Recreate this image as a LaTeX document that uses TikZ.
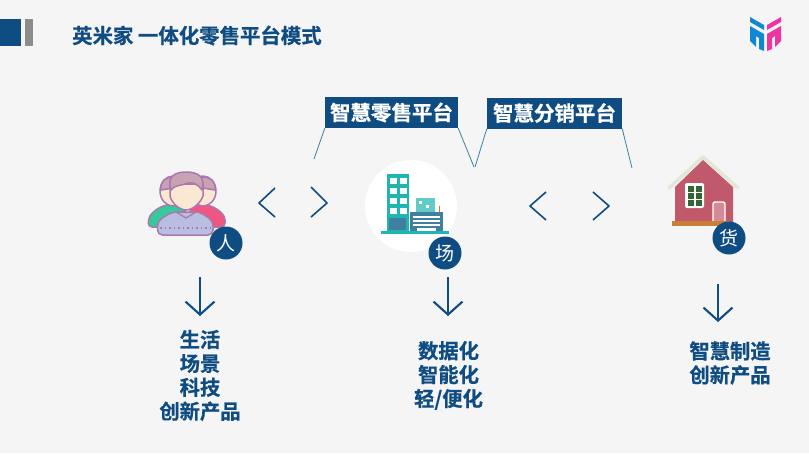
\documentclass[tikz,border=0pt]{standalone}
\usepackage{fontspec}
\usepackage{xcolor}
\usetikzlibrary{arrows.meta}
\setmainfont{Noto Sans CJK SC}[BoldFont={Noto Sans CJK SC Bold},BoldFeatures={FakeBold=0.6}]
\definecolor{azulmarca}{HTML}{0F4C81}
\definecolor{azulicone}{HTML}{3F7F9F}
\definecolor{fundo}{HTML}{F5F5F6}
\definecolor{ciano}{HTML}{1FB5B0}
\definecolor{lilas}{HTML}{A878AE}
\definecolor{cabelo}{HTML}{C9A2B4}
\definecolor{pele}{HTML}{FCE8D2}
\definecolor{verde}{HTML}{35C99B}
\definecolor{rosa}{HTML}{F0567F}
\definecolor{malha}{HTML}{B9BDE0}
\definecolor{casa}{HTML}{C0596B}
\definecolor{telhado}{HTML}{E4E6D8}
\tikzset{
  titulo/.style={font=\bfseries\fontsize{20.4}{24}\selectfont, text=azulmarca, anchor=west, inner sep=0},
  plataforma/.style={fill=azulmarca, text=white, font=\bfseries\fontsize{20.5}{24}\selectfont, inner sep=0, minimum height=31pt},
  guia/.style={draw=azulicone, line width=0.8pt},
  seta/.style={draw=azulmarca, line width=1.6pt},
  setabaixo/.style={seta, line width=2.1pt, -{Straight Barb[length=13pt,width=29pt,line width=2.1pt]}},
  selo/.style={circle, fill=azulmarca, text=white, font=\fontsize{19}{22}\selectfont, inner sep=0, minimum size=33pt},
  lista/.style={align=center, text=azulmarca, font=\bfseries\fontsize{20.3}{24}\selectfont, inner sep=0},
  contorno/.style={draw=lilas, line width=1.5pt, line join=round},
}
\begin{document}
\begin{tikzpicture}[x=1pt,y=-1pt]
    \useasboundingbox (0,0) rectangle (809,453);
    \fill[fundo] (0,0) rectangle (809,453);

    % Cabecalho
    \fill[azulmarca] (0,19) rectangle (21,46);
    \fill[gray!90] (25,19) rectangle (33,46);
    \node[titulo] (cabecalho) at (72,35.5) {英米家 一体化零售平台模式};

    % Marca
    \fill[cyan!70!blue] (750,17) -- (764,25) -- (764,30) -- (750,22) -- cycle;
    \fill[cyan!70!blue] (750,26) -- (764,34) -- (764,51) -- (759,49) -- (759,38) -- (756,36) -- (756,47) -- (750,41) -- cycle;
    \fill[magenta!80!white] (781,17) -- (767,25) -- (767,30) -- (781,22) -- cycle;
    \fill[magenta!80!white] (781,26) -- (767,34) -- (767,51) -- (772,49) -- (772,38) -- (775,36) -- (775,47) -- (781,41) -- cycle;

    % Plataformas
    \node[plataforma, minimum width=133pt] (varejo) at (391.5,112.5) {智慧零售平台};
    \node[plataforma, minimum width=135pt] (distribuicao) at (554.5,113) {智慧分销平台};
    \coordinate (g1) at (314,159);
    \coordinate (g2) at (474,167);
    \coordinate (g3) at (475,167);
    \coordinate (g4) at (632,168);
    \draw[guia] (varejo.south west) -- (g1);
    \draw[guia] (varejo.south east) -- (g2);
    \draw[guia] (distribuicao.south west) -- (g3);
    \draw[guia] (distribuicao.south east) -- (g4);

    % Pessoas
    \filldraw[fill=verde, contorno, rounded corners=4pt] (148,227) -- (149,216) -- (158,208) -- (172,203) -- (185,205) -- (185,227) -- cycle;
    \filldraw[fill=rosa, contorno, rounded corners=4pt] (225,227) -- (225,216) -- (216,208) -- (202,203) -- (190,205) -- (190,227) -- cycle;
    \filldraw[fill=pele, contorno] (173,191) ellipse (13 and 15);
    \filldraw[fill=pele, contorno] (203,191) ellipse (13 and 15);
    \filldraw[fill=cabelo, contorno] (161,190) .. controls (160,181) and (166,177) .. (174,177) .. controls (180,177) and (184,180) .. (186,186) -- cycle;
    \filldraw[fill=cabelo, contorno] (215,190) .. controls (216,181) and (210,177) .. (202,177) .. controls (196,177) and (192,180) .. (190,186) -- cycle;
    \filldraw[fill=malha, contorno, rounded corners=5pt] (157.5,235) -- (157.5,221) -- (172,212) -- (200,212) -- (213,221) -- (213,235) -- cycle;
    \draw[lilas, line width=1.2pt] (176,212) -- (186,218) -- (196,212);
    \draw[lilas, line width=1.2pt, dash pattern=on 1.5pt off 3pt] (160,228) -- (212,228);
    \filldraw[fill=pele, contorno] (170,184) -- (170,196) .. controls (172,204) and (180,210) .. (186,210) .. controls (192,210) and (200,204) .. (203,196) -- (203,184) -- cycle;
    \filldraw[fill=cabelo, contorno] (171,190) .. controls (166,176) and (176,172) .. (186,172) .. controls (197,172) and (206,176) .. (202,190) .. controls (198,184) and (192,182) .. (188,183) .. controls (182,186) and (176,184) .. (171,190) -- cycle;
    \node[selo] (pessoa) at (226,243) {人};

    % Loja
    \fill[white] (411,206) circle (46);
    \fill[ciano] (387,174) rectangle (409,232);
    \foreach \coluna in {389.5,400} {
      \foreach \linha in {178,188,198,208} {
        \fill[white] (\coluna,\linha) rectangle ++(7,6);
      }
    }
    \fill[azulicone] (389,218) rectangle (406,230);
    \fill[ciano!70!white] (416,198) rectangle (435,212);
    \fill[white] (419,201) rectangle ++(3,3);
    \fill[white] (426,205) rectangle ++(3,3);
    \fill[azulicone] (410,212) rectangle (443,231);
    \foreach \linha in {216,220,224} {
      \fill[white] (413,\linha) rectangle (440,\linha+1.8);
    }
    \fill[white] (417,228) rectangle (436,231);
    \draw[orange!80!red, line width=1pt] (439,206) -- (439,212);
    \fill[ciano] (381,231) rectangle (449,234);
    \node[selo] (loja) at (445,253) {场};

    % Casa
    \fill[casa] (675,187) -- (703,160) -- (733,187) -- (733,224) -- (675,224) -- cycle;
    \draw[line width=3.6pt, telhado, line cap=round, line join=round] (669,188) -- (703,157) -- (738,188);
    \fill[white, rounded corners=2pt] (685,183) rectangle (704,208);
    \foreach \linha in {186,193,200} {
      \fill[green!25!black!80] (687.5,\linha) rectangle ++(6,5.5);
      \fill[green!25!black!80] (695.5,\linha) rectangle ++(6,5.5);
    }
    \filldraw[fill=casa!70!white, draw=white, line width=1.4pt, rounded corners=2pt] (713,222) -- (713,202) -- (725,202) -- (725,222);
    \fill[brown!85!orange] (672,221) rectangle (730,226);
    \node[selo] (produto) at (729,238) {货};

    % Setas entre os blocos
    \draw[seta, line join=round] (275,188) -- (259,203) -- (275,217);
    \draw[seta, line join=round] (311,187) -- (327,203) -- (311,217);
    \draw[seta, line join=round] (546,192) -- (530,206) -- (546,220);
    \draw[seta, line join=round] (593,192) -- (609,206) -- (593,220);

    % Setas para baixo e listas
    \node[lista] (lista1) at (200,375.5) {生活\\[-0.1pt]场景\\[-0.1pt]科技\\[-0.1pt]创新产品};
    \node[lista] (lista2) at (448.5,375.5) {数据化\\[-0.1pt]智能化\\[-0.1pt]轻/便化};
    \node[lista] (lista3) at (730,363) {智慧制造\\[-0.1pt]创新产品};
    \coordinate (a1) at (200,277);
    \coordinate (a2) at (448,277);
    \coordinate (a3) at (718,284);
    \draw[setabaixo] (a1) -- (200,316);
    \draw[setabaixo] (a2) -- (448,316);
    \draw[setabaixo] (a3) -- (718,322);
\end{tikzpicture}
\end{document}
